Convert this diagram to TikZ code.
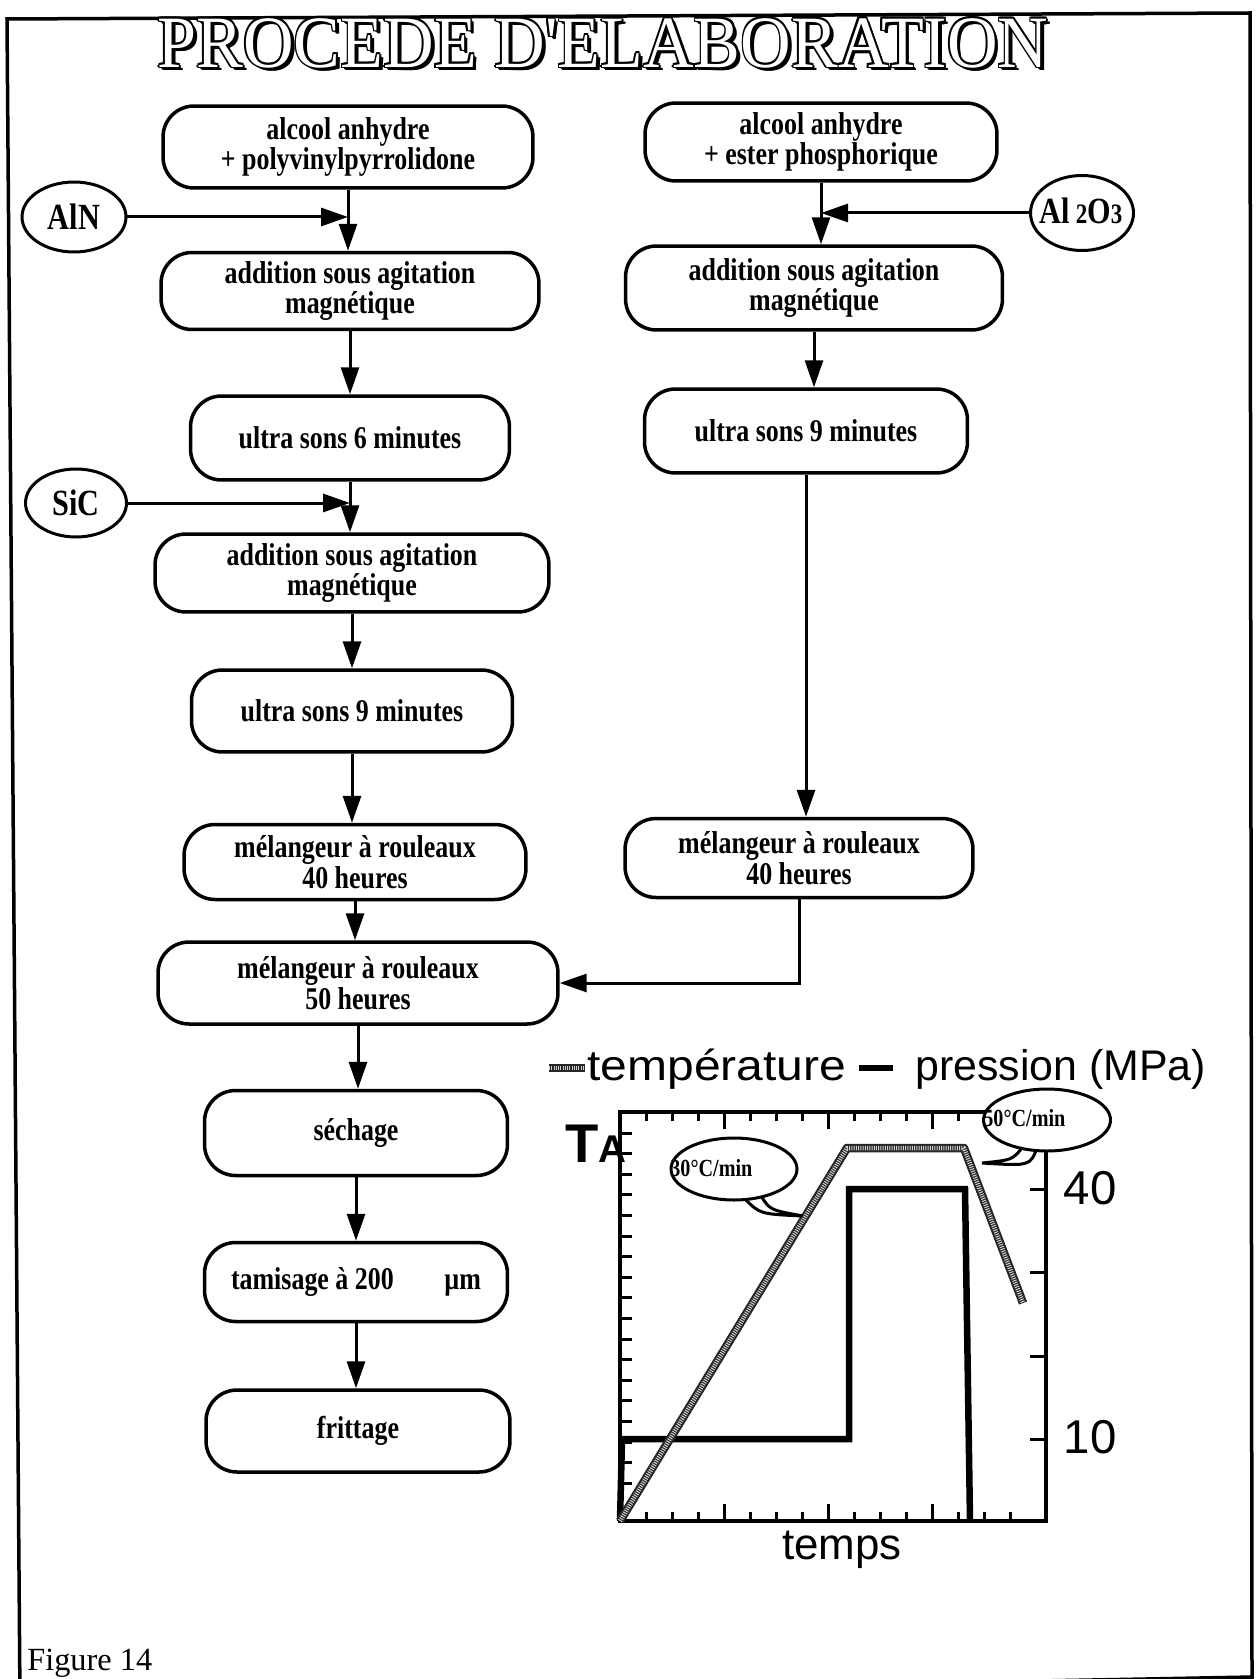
\documentclass[tikz,border=0pt]{standalone}
\usepackage{fontspec}
\setmainfont{Liberation Serif}
\newfontfamily\boxfont[FakeStretch=0.82]{Liberation Serif}
\newfontfamily\titlefont[FakeStretch=0.95]{Liberation Serif}
\newfontfamily\chartfont{Liberation Sans}
\newfontfamily\chartwide[FakeStretch=1.12]{Liberation Sans}
\usetikzlibrary{arrows.meta,shapes.geometric,calc}
\begin{document}
\begin{tikzpicture}[x=0.02cm,y=-0.02cm,
 box/.style={draw, line width=0.07cm, rounded corners=0.62cm, align=center, inner sep=0pt,
   font=\boxfont\bfseries\fontsize{18}{16}\selectfont},
 oval/.style={draw, ellipse, line width=0.06cm, inner sep=0pt,
   font=\boxfont\bfseries\fontsize{21}{21}\selectfont},
 arr/.style={line width=0.06cm, -{Triangle[length=0.54cm,width=0.36cm]}},
 axis/.style={line width=0.07cm},
 tick/.style={line width=0.06cm},
 pres/.style={line width=0.13cm, line join=miter},
 tempout/.style={line width=0.17cm, draw=black!85, line join=round},
 tempin/.style={line width=0.09cm, draw=gray!35, dash pattern=on 0.02cm off 0.025cm, line join=round},
 bubble/.style={draw, fill=white, line width=0.06cm},
 btext/.style={font=\boxfont\bfseries\fontsize{14}{14}\selectfont, inner sep=0pt, anchor=west},
 ctext/.style={font=\chartfont\fontsize{24.4}{24.4}\selectfont, inner sep=0pt},
 ttl/.style={font=\titlefont\fontsize{42}{42}\selectfont, inner sep=0pt}
]
\useasboundingbox (0,0) rectangle (1255,1679);
\fill[white] (0,0) rectangle (1255,1679);
% frame
\draw[line width=0.07cm] (20,1700) -- (7,19) -- (1250,13) -- (1252,1677) -- (20,1700);

% title (outlined, shadowed)
\coordinate (tc) at (603,43);
\foreach \d in {0.02,0.04,0.06,0.075}{
  \node[ttl, text=black] (ts\d) at ($(tc)+(\d cm,-\d cm)$) {PROCEDE D'ELABORATION};
}
\foreach \a in {0,45,...,315}{
  \node[ttl, text=black] (to\a) at ($(tc)+(\a:0.033cm)$) {PROCEDE D'ELABORATION};
}
\node[ttl, text=white] (title) at (tc) {PROCEDE D'ELABORATION};

% left column
\node[box, minimum width=7.4cm,  minimum height=1.64cm] (b1)  at (348,147)  {alcool anhydre\\+ polyvinylpyrrolidone};
\node[box, minimum width=7.56cm, minimum height=1.54cm] (b2)  at (350,291)  {addition sous agitation\\magnétique};
\node[box, minimum width=6.38cm, minimum height=1.68cm] (b3)  at (350,438)  {ultra sons 6 minutes};
\node[box, minimum width=7.88cm, minimum height=1.56cm] (b4)  at (352,573)  {addition sous agitation\\magnétique};
\node[box, minimum width=6.42cm, minimum height=1.64cm] (b5)  at (352,711)  {ultra sons 9 minutes};
\node[box, minimum width=6.84cm, minimum height=1.5cm]  (b6)  at (355,862)  {mélangeur à rouleaux\\40 heures};
\node[box, minimum width=8.0cm,  minimum height=1.64cm] (b7)  at (358,983)  {mélangeur à rouleaux\\50 heures};
\node[box, minimum width=6.06cm, minimum height=1.7cm]  (b8)  at (356,1133) {séchage};
\node[box, minimum width=6.06cm, minimum height=1.58cm] (b9)  at (356,1282) {tamisage à 200\hspace{1.6em}µm};
\node[box, minimum width=6.08cm, minimum height=1.64cm] (b10) at (358,1431) {frittage};

\node[oval, minimum width=2.08cm, minimum height=1.4cm] (aln) at (74,217) {AlN};
\node[oval, minimum width=2.02cm, minimum height=1.36cm] (sic) at (76,503) {SiC};

% right column
\node[box, minimum width=7.04cm, minimum height=1.56cm] (r1) at (821,142) {alcool anhydre\\+ ester phosphorique};
\node[box, minimum width=7.54cm, minimum height=1.68cm] (r2) at (814,288) {addition sous agitation\\magnétique};
\node[box, minimum width=6.46cm, minimum height=1.68cm] (r3) at (806,431) {ultra sons 9 minutes};
\node[box, minimum width=6.96cm, minimum height=1.58cm] (r4) at (799,858) {mélangeur à rouleaux\\40 heures};

\node[draw, ellipse, line width=0.06cm, minimum width=2.06cm, minimum height=1.5cm, inner sep=0pt] (alo) at (1082,213) {};
\node[inner sep=0pt, font=\boxfont\bfseries\fontsize{21}{21}\selectfont] (alot) at (1081,211)
  {Al\,{\fontsize{16}{16}\selectfont 2}O{\fontsize{16}{16}\selectfont 3}};

% connectors left
\draw[arr] (b1.south) -- (b1.south |- b2.north);
\draw[arr] (aln.east) -- (b1.south |- aln.east);
\draw[arr] (b2.south) -- (b2.south |- b3.north);
\draw[arr] (b3.south) -- (b3.south |- b4.north);
\draw[arr] (sic.east) -- (b3.south |- sic.east);
\draw[arr] (b4.south) -- (b4.south |- b5.north);
\draw[arr] (b5.south) -- (b5.south |- b6.north);
\draw[arr] (b6.south) -- (b6.south |- b7.north);
\draw[arr] (b7.south) -- (b7.south |- b8.north);
\draw[arr] (b8.south) -- (b8.south |- b9.north);
\draw[arr] (b9.south) -- (b9.south |- b10.north);
% connectors right
\draw[arr] (r1.south) -- (r1.south |- r2.north);
\draw[arr] (alo.west) -- (r1.south |- alo.west);
\draw[arr] (r2.south) -- (r2.south |- r3.north);
\draw[arr] (r3.south) -- (r3.south |- r4.north);
\draw[arr] (r4.south) |- (b7.east);

% chart
\draw[axis] (620,1112) rectangle (1046,1521);
\foreach \k in {0,...,17} \draw[tick] (620,{1133+20.6*\k}) -- ++(12,0);
\foreach \k in {1,2,3,5,6,7,9,10,11,13} \draw[tick] ({620+26*\k},1112) -- ++(0,9);
\foreach \k in {4,8,12} \draw[tick] ({620+26*\k},1112) -- ++(0,17);
\foreach \k in {1,2,3,5,6,7,9,10,11,13,14,15} \draw[tick] ({620+26*\k},1521) -- ++(0,-9);
\foreach \k in {4,8,12} \draw[tick] ({620+26*\k},1521) -- ++(0,-17);
\foreach \y in {1189,1272,1356,1439} \draw[tick] (1046,\y) -- ++(-16,0);

\draw[pres] (620,1521) -- (622,1439) -- (849,1439) -- (849,1189) -- (965,1189) -- (970,1521);
\draw[tempout] (620,1521) -- (847,1148) -- (964,1148) -- (1023,1303);
\draw[tempin] (620,1521) -- (847,1148) -- (964,1148) -- (1023,1303);

% bubbles
\draw[bubble] (745,1199) .. controls (760,1214) .. (803,1216) .. controls (770,1210) .. (761,1196);
\draw[bubble] (734,1169) ellipse [x radius=1.26cm, y radius=0.62cm];
\node[btext] (t30) at (670,1168) {30°C/min};
\draw[bubble] (1022,1148) .. controls (1012,1160) .. (982,1163) .. controls (1030,1166) .. (1037,1148);
\draw[bubble] (1047,1120) ellipse [x radius=1.27cm, y radius=0.62cm];
\node[btext] (t50) at (983,1118) {50°C/min};

% chart labels
\draw[tempout] (549,1068) -- (585,1068);
\draw[tempin] (549,1068) -- (585,1068);
\node[ctext, font=\chartwide\fontsize{24.4}{24.4}\selectfont, anchor=base west] (legT) at (587,1080) {température};
\draw[pres] (859,1068) -- (893,1068);
\node[ctext, anchor=base west] (legP) at (915,1080) {pression (MPa)};
\node[font=\chartfont\fontsize{27}{27}\selectfont, inner sep=0pt] (l40) at (1090,1188) {40};
\node[font=\chartfont\fontsize{27}{27}\selectfont, inner sep=0pt] (l10) at (1090,1437) {10};
\node[font=\chartfont\fontsize{25}{25}\selectfont, inner sep=0pt] (ltemps) at (842,1550) {temps};
\node[anchor=base west, inner sep=0pt, font=\chartfont\bfseries] (lTA) at (565,1162)
  {\fontsize{31}{31}\selectfont T\fontsize{22}{22}\selectfont A};

% caption
\node[anchor=base west, inner sep=0pt, font=\fontsize{18.4}{18.4}\selectfont] (fig) at (27,1670) {Figure 14};
\end{tikzpicture}
\end{document}
